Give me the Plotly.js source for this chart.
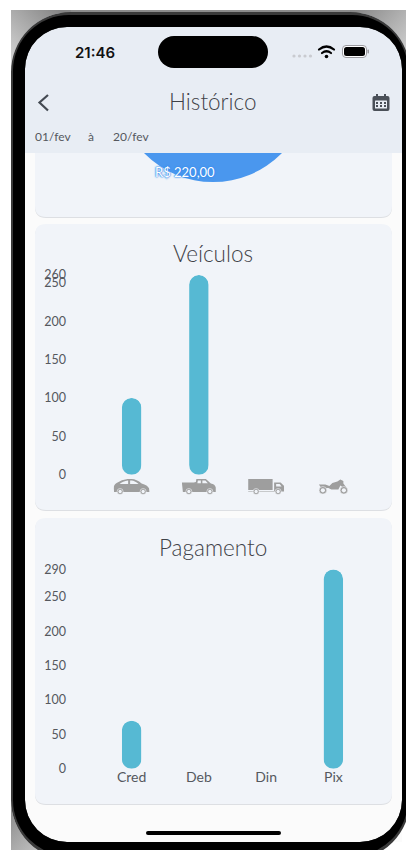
<!DOCTYPE html>
<html>
<head>
<meta charset="utf-8">
<script src="https://cdn.plot.ly/plotly-3.0.1.min.js"></script>
<style>
  html, body { margin: 0; padding: 0; width: 406px; height: 850px; overflow: hidden; background: #fff; }
  #screen { position: absolute; left: 25px; top: 27px; width: 377px; height: 815px; background: #fbfbfb; }
  #chart { position: absolute; left: 0; top: -20px; width: 406px; height: 880px; clip-path: inset(30px 0 0 0); }
  #chrome { position: absolute; left: 0; top: 0; pointer-events: none; }
  /* pill-shaped bars: both ends fully round */
  #chart .barlayer .point path { clip-path: inset(0 round 10px) fill-box; }
</style>
</head>
<body>
<div id="screen"></div>
<div id="chart"></div>
<svg id="chrome" width="406" height="850" viewBox="0 0 406 850">
  <defs>
    <linearGradient id="shadeTL" gradientUnits="userSpaceOnUse" x1="12" y1="62" x2="62" y2="12">
      <stop offset="0" stop-color="#d4d4d4"/><stop offset="1" stop-color="#858585"/>
    </linearGradient>
    <linearGradient id="shadeTR" gradientUnits="userSpaceOnUse" x1="350" y1="12" x2="406" y2="60">
      <stop offset="0" stop-color="#858585"/><stop offset="1" stop-color="#d4d4d4"/>
    </linearGradient>
    <linearGradient id="shadeBL" gradientUnits="userSpaceOnUse" x1="12" y1="805" x2="60" y2="850">
      <stop offset="0" stop-color="#8a8a8a"/><stop offset="1" stop-color="#d0d0d0"/>
    </linearGradient>
  </defs>
  <!-- device body: outer corners, rim, black bezel -->
  <rect x="11" y="10" width="395" height="3" fill="#8c8c8c"/>
  <path fill="url(#shadeTL)" d="M11 10 H71 V12 A60 60 0 0 0 11 72 Z"/>
  <path fill="url(#shadeTR)" d="M406 10 H350 V12 A60 60 0 0 1 410 72 H406 Z"/>
  <path fill="url(#shadeBL)" d="M11 850 V800 A60 60 0 0 0 71 860 V850 Z"/>
  <path fill-rule="evenodd" fill="#3a3a3a" d="M11 72 A60 60 0 0 1 71 12 H350 A60 60 0 0 1 410 72 V800 A60 60 0 0 1 350 860 H71 A60 60 0 0 1 11 800Z M25 69 A42 42 0 0 1 67 27 H360 A42 42 0 0 1 402 69 V800 A42 42 0 0 1 360 842 H67 A42 42 0 0 1 25 800Z"/>
  <path fill-rule="evenodd" fill="#000" d="M13 70 A56 56 0 0 1 69 15 H352 A56 56 0 0 1 408 70 V800 A56 56 0 0 1 352 856 H69 A56 56 0 0 1 13 800Z M25 69 A42 42 0 0 1 67 27 H360 A42 42 0 0 1 402 69 V800 A42 42 0 0 1 360 842 H67 A42 42 0 0 1 25 800Z"/>
  <!-- camera cut-out and status icons -->
  <rect x="158" y="36" width="110" height="32" rx="16" fill="#000"/>
  <g fill="#c9cbd0"><circle cx="294" cy="56" r="1.6"/><circle cx="299.5" cy="56" r="1.6"/><circle cx="305" cy="56" r="1.6"/><circle cx="310.5" cy="56" r="1.6"/></g>
  <g fill="none" stroke="#000" stroke-width="2.2" stroke-linecap="round">
    <path d="M319 49.5 Q326.5 43.5 334 49.5"/><path d="M322 53 Q326.5 49.5 331 53"/>
  </g>
  <circle cx="326.5" cy="56.5" r="1.8" fill="#000"/>
  <rect x="342.5" y="45.5" width="24" height="12" rx="3.5" fill="#fff" stroke="#9b9ba0" stroke-width="1"/>
  <rect x="344" y="47" width="21" height="9" rx="2.5" fill="#000"/>
  <rect x="367.5" y="49.5" width="1.5" height="4" rx="0.7" fill="#9b9ba0"/>
  <!-- app bar icons -->
  <path d="M48 95 L39.500 102.500 L48 110.500" fill="none" stroke="#444a52" stroke-width="2.200"/>
  <path fill="#4a5058" d="M376 94h2v2h6v-2h2v2h1.500a2 2 0 0 1 2 2v11a2 2 0 0 1-2 2h-13a2 2 0 0 1-2-2v-11a2 2 0 0 1 2-2h1.500z"/>
  <g fill="#e8edf4"><rect x="375" y="100.500" width="12" height="8" rx="0.500"/></g>
  <g fill="#4a5058"><rect x="376" y="102" width="2" height="2"/><rect x="380" y="102" width="2" height="2"/><rect x="384" y="102" width="2" height="2"/><rect x="376" y="105" width="2" height="2"/><rect x="380" y="105" width="2" height="2"/><rect x="384" y="105" width="2" height="2"/></g>
  <!-- home indicator -->
  <rect x="146" y="831" width="135" height="4" rx="2" fill="#000"/>
</svg>
<script>
// Vehicle chart data
const vehicleCategories = [0, 1, 2, 3];
const vehicleValues = [100, 260, 0, 0];
const vehicleTicks = [0, 50, 100, 150, 200, 250, 260];

// Payment chart data
const paymentCategories = ['Cred', 'Deb', 'Din', 'Pix'];
const paymentValues = [70, 0, 0, 290];
const paymentTicks = [0, 50, 100, 150, 200, 250, 290];

// Value slice from the summary card
const summaryLabels = ['R$ 220,00'];
const summaryValues = [220];

const W = 406, H = 880, TOP = 20;
const px = v => v / W;
const py = v => 1 - (v + TOP) / H;

const barColor = '#56b9d3';
const inkColor = '#55585e';
const titleColor = '#3f4248';
const uiFont = 'Lato, "Noto Sans", sans-serif';

function cardPath(x0, y0, x1, y1, r) {
  const X = px, Y = py;
  return `M${X(x0 + r)} ${Y(y0)}L${X(x1 - r)} ${Y(y0)}Q${X(x1)} ${Y(y0)} ${X(x1)} ${Y(y0 + r)}` +
    `L${X(x1)} ${Y(y1 - r)}Q${X(x1)} ${Y(y1)} ${X(x1 - r)} ${Y(y1)}` +
    `L${X(x0 + r)} ${Y(y1)}Q${X(x0)} ${Y(y1)} ${X(x0)} ${Y(y1 - r)}` +
    `L${X(x0)} ${Y(y0 + r)}Q${X(x0)} ${Y(y0)} ${X(x0 + r)} ${Y(y0)}Z`;
}
function card(y0, y1) {
  return [
    { type: 'path', xref: 'paper', yref: 'paper', layer: 'below', path: cardPath(35, y0 + 1, 392, y1 + 1, 11), fillcolor: '#dddfe3', line: { width: 0 } },
    { type: 'path', xref: 'paper', yref: 'paper', layer: 'below', path: cardPath(35, y0, 392, y1, 11), fillcolor: '#f1f4f9', line: { width: 0 } }
  ];
}

function iconUri(body, w, h) {
  const svg = `<svg xmlns="http://www.w3.org/2000/svg" viewBox="0 0 ${w} ${h}" width="${w}" height="${h}"><g fill="#9e9e9e">${body}</g></svg>`;
  return 'data:image/svg+xml;base64,' + btoa(svg);
}
const wheel = (x, y, r) => `<circle cx="${x}" cy="${y}" r="${r}" fill="#9e9e9e" stroke="#f1f4f9" stroke-width="0.6"/><circle cx="${x}" cy="${y}" r="${r * 0.55}" fill="#f1f4f9"/>`;
const vehicleIcons = [
  { w: 36, h: 16, body: '<path d="M0 10 Q0 6 3 4.500 Q8 1 14 0.500 H18 Q23 0.500 28 5 Q34 6.500 35.500 10 L36 13.500 H0.500 Z"/><path fill="#f1f4f9" d="M6 5.500 Q9 2.500 14.500 2 V5.500Z M16.500 2 H18 Q21 2 25 5.500 H16.500Z"/>' + wheel(6.500, 13, 3) + wheel(29.500, 13, 3) },
  { w: 34, h: 16, body: '<path d="M0 4 H12 L14 3.500 L14.500 0.500 H24 L29 5 Q33 5.500 34 9 V13.500 H1 Z"/><path fill="#f1f4f9" d="M16 2 H19 V4.800 H15.500Z M20.500 2 H23.500 L26 4.800 H20.500Z"/>' + wheel(7, 13, 3) + wheel(28, 13, 3) },
  { w: 36, h: 16, body: '<path d="M0 0.500 H24.500 V11.500 H0Z M26 4 H32.500 L36 7.500 V13 H0 V12.500 H26Z"/><path fill="#f1f4f9" d="M28 5.500 H31.500 L33.500 8 H28Z"/>' + wheel(8, 13, 3) + wheel(30, 13, 3) },
  { w: 30, h: 16, body: '<path d="M0.500 6 H7 L11 7.500 L14 4.500 L19 3 L22 1 L25 2.500 L25 5 L28 9 L26 10 L22 7 L20 11 H13 L10 9.500 H3 Z"/>' + wheel(4.500, 11.800, 3.800) + wheel(25.500, 11.800, 3.800) }
];

const axisBase = { showgrid: false, zeroline: false, showline: false, ticks: '' };

const layout = {
  width: W, height: H,
  autosize: false,
  margin: { l: 0, r: 0, t: 0, b: 0 },
  paper_bgcolor: 'rgba(0,0,0,0)',
  plot_bgcolor: 'rgba(0,0,0,0)',
  showlegend: false,
  barmode: 'overlay',
  font: { family: uiFont, color: inkColor, size: 12.5 },
  xaxis: {
    ...axisBase,
    domain: [px(98), px(367)], range: [-0.5, 3.5], anchor: 'y',
    tickmode: 'array', tickvals: vehicleCategories, showticklabels: false
  },
  yaxis: {
    ...axisBase,
    domain: [py(474.8), py(275.1)], range: [0, 260], anchor: 'free', position: px(66),
    tickmode: 'array', tickvals: vehicleTicks
  },
  xaxis2: {
    ...axisBase,
    domain: [px(98), px(367)], range: [-0.5, 3.5], anchor: 'y2', type: 'category',
    categoryorder: 'array', categoryarray: paymentCategories,
    tickfont: { size: 14 }, ticklabelstandoff: -2
  },
  yaxis2: {
    ...axisBase,
    domain: [py(768.8), py(569.5)], range: [0, 290], anchor: 'free', position: px(66),
    tickmode: 'array', tickvals: paymentTicks
  },
  shapes: [
    ...card(120, 217),
    ...card(224, 510),
    ...card(518, 804),
    // app bar sits over the scrolled summary card
    { type: 'rect', xref: 'paper', yref: 'paper', layer: 'above', x0: px(25), x1: px(402), y0: py(153), y1: py(-20), fillcolor: '#e8edf4', line: { width: 0 } }
  ],
  images: vehicleIcons.map((ic, i) => ({
    source: iconUri(ic.body, ic.w, ic.h),
    xref: 'x', yref: 'paper', x: vehicleCategories[i], y: py(478.500),
    sizex: ic.w / 67.25, sizey: ic.h / H, sizing: 'stretch',
    xanchor: 'center', yanchor: 'top', layer: 'above'
  })),
  annotations: [
    { text: '21:46', x: px(95), y: py(52.500), font: { size: 15, color: '#111', family: 'Inter, sans-serif', weight: 600 } },
    { text: 'Histórico', x: px(213), y: py(101.500), font: { size: 22.5, color: titleColor, weight: 300 } },
    { text: '01/fev', x: px(53), y: py(136.500), font: { size: 12 } },
    { text: 'à', x: px(91), y: py(136.500), font: { size: 12 } },
    { text: '20/fev', x: px(131), y: py(136.500), font: { size: 12 } },
    { text: summaryLabels[0], x: px(184.5), y: py(172), font: { size: 13, color: '#ffffff', shadow: '0 0 1px #2f86ec, 0 0 2px #2f86ec, 0 0 2px #4a97ee' } },
    { text: 'Veículos', x: px(213), y: py(253), font: { size: 22.5, color: titleColor, weight: 300 } },
    { text: 'Pagamento', x: px(213), y: py(547), font: { size: 22.5, color: titleColor, weight: 300 } }
  ].map(a => ({ xref: 'paper', yref: 'paper', showarrow: false, xanchor: 'center', yanchor: 'middle', ...a }))
};

const data = [
  {
    type: 'pie', labels: summaryLabels, values: summaryValues, textinfo: 'none', sort: false,
    marker: { colors: ['#4a97ee'], line: { width: 0 } },
    domain: { x: [px(116.5), px(309.5)], y: [py(182), py(-11)] }
  },
  {
    type: 'bar', x: vehicleCategories, y: vehicleValues, xaxis: 'x', yaxis: 'y',
    width: 0.29, marker: { color: barColor, cornerradius: 10, line: { width: 0 } }
  },
  {
    type: 'bar', x: paymentCategories, y: paymentValues, xaxis: 'x2', yaxis: 'y2',
    width: 0.29, marker: { color: barColor, cornerradius: 10, line: { width: 0 } }
  }
];

Plotly.newPlot('chart', data, layout, { staticPlot: true, displayModeBar: false });
</script>
</body>
</html>
